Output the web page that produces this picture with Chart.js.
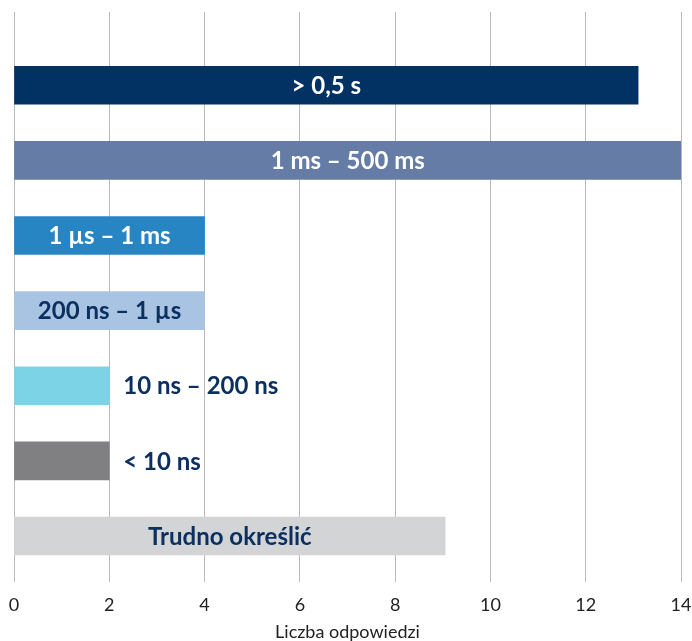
<!DOCTYPE html>
<html>
<head>
<meta charset="utf-8">
<script src="https://cdn.jsdelivr.net/npm/chart.js@4"></script>
<style>
  html, body { margin: 0; padding: 0; background: #ffffff; }
  #wrap { width: 692px; height: 641px; }
</style>
</head>
<body>
<div id="wrap"><canvas id="c" width="692" height="641"></canvas></div>
<script>
const categories = ["> 0,5 s", "1 ms – 500 ms", "1 µs – 1 ms", "200 ns – 1 µs", "10 ns – 200 ns", "< 10 ns", "Trudno określić"];
const values = [13.1, 14, 4, 4, 2, 2, 9.05];
const xTicks = [0, 2, 4, 6, 8, 10, 12, 14];
const axisTitle = "Liczba odpowiedzi";

const barColors = ["#023263", "#647ca6", "#2885c4", "#a9c3e2", "#7bd3e5", "#808083", "#d3d4d6"];
const textColors = ["#ffffff", "#ffffff", "#ffffff", "#0b3060", "#0b3060", "#0b3060", "#0b3060"];
const NAVY = "#0b3060";

const labelPlugin = {
  id: 'barLabels',
  afterDatasetsDraw(chart) {
    const ctx = chart.ctx;
    const meta = chart.getDatasetMeta(0);
    ctx.save();
    ctx.font = 'bold 24px Lato';
    ctx.textBaseline = 'middle';
    meta.data.forEach((bar, i) => {
      const text = categories[i];
      const w = ctx.measureText(text).width;
      const left = Math.min(bar.base, bar.x);
      const right = Math.max(bar.base, bar.x);
      if (w + 30 < right - left) {
        ctx.textAlign = 'center';
        ctx.fillStyle = textColors[i];
        ctx.fillText(text, (left + right) / 2, bar.y + 1);
      } else {
        ctx.textAlign = 'left';
        ctx.fillStyle = NAVY;
        ctx.fillText(text, right + 14, bar.y + 1);
      }
    });
    ctx.restore();
  }
};

new Chart(document.getElementById('c'), {
  type: 'bar',
  data: {
    datasets: [{
      data: values.map((v, i) => ({ x: v, y: i })),
      backgroundColor: barColors,
      borderWidth: 0,
      barThickness: 38
    }]
  },
  options: {
    indexAxis: 'y',
    responsive: false,
    animation: false,
    layout: { padding: { left: 14, right: 11, top: 12, bottom: -2 } },
    plugins: { legend: { display: false }, tooltip: { enabled: false } },
    scales: {
      x: {
        type: 'linear',
        min: 0,
        max: 14,
        afterBuildTicks(scale) { scale.ticks = xTicks.map(v => ({ value: v })); },
        afterFit(scale) { scale.paddingLeft = 0; scale.paddingRight = 0; },
        grid: { color: '#b9b9b9', lineWidth: 1, drawTicks: false },
        border: { display: false },
        ticks: { color: '#222222', font: { family: 'Lato', size: 18 }, padding: 13 },
        title: { display: true, text: axisTitle, color: '#222222', font: { family: 'Lato', size: 18 }, padding: { top: -8, bottom: 0 } }
      },
      y: {
        type: 'linear',
        reverse: true,
        offset: false,
        min: -0.975,
        max: 6.61,
        display: false
      }
    }
  },
  plugins: [labelPlugin]
});
</script>
</body>
</html>
